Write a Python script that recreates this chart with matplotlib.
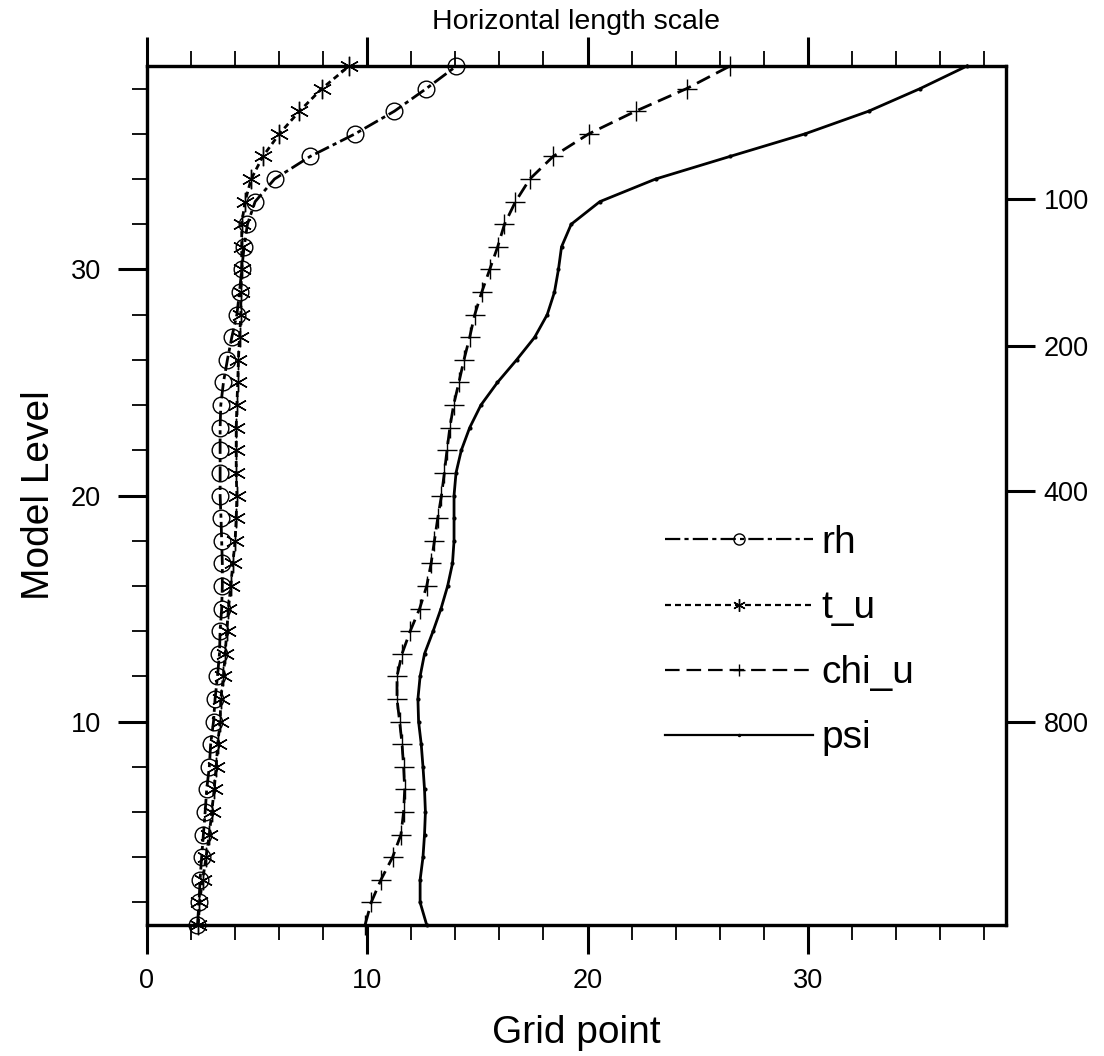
import matplotlib
matplotlib.use("Agg")
import matplotlib.pyplot as plt
from matplotlib.lines import Line2D
from matplotlib.ticker import MultipleLocator, FixedLocator

plt.rcParams['font.family'] = ['Liberation Sans', 'DejaVu Sans']
plt.rcParams['lines.scale_dashes'] = False

levels = list(range(1, 40))

rh = [2.29, 2.36, 2.41, 2.48, 2.56, 2.64, 2.71, 2.83, 2.89, 3.02,
      3.09, 3.20, 3.29, 3.32, 3.39, 3.42, 3.42, 3.39, 3.36, 3.32,
      3.32, 3.32, 3.32, 3.35, 3.47, 3.65, 3.85, 4.08, 4.20, 4.30,
      4.41, 4.56, 4.91, 5.79, 7.41, 9.45, 11.23, 12.68, 14.05]

t_u = [2.33, 2.38, 2.53, 2.68, 2.83, 2.94, 3.05, 3.14, 3.21, 3.32,
       3.35, 3.47, 3.55, 3.62, 3.70, 3.80, 3.90, 4.00, 4.05, 4.08,
       4.05, 4.05, 4.05, 4.08, 4.12, 4.15, 4.20, 4.26, 4.26, 4.30,
       4.30, 4.30, 4.45, 4.73, 5.26, 6.01, 6.92, 7.94, 9.18]

chi_u = [9.90, 10.18, 10.62, 11.15, 11.53, 11.65, 11.70, 11.65, 11.58, 11.47,
         11.35, 11.35, 11.58, 11.95, 12.38, 12.70, 12.90, 13.05, 13.20, 13.37,
         13.50, 13.62, 13.75, 13.92, 14.16, 14.39, 14.65, 14.88, 15.20, 15.56,
         15.92, 16.23, 16.73, 17.38, 18.44, 20.06, 22.18, 24.50, 26.47]

psi = [12.70, 12.40, 12.40, 12.53, 12.60, 12.64, 12.60, 12.53, 12.45, 12.33,
       12.30, 12.40, 12.60, 12.99, 13.35, 13.65, 13.87, 13.94, 13.94, 13.94,
       14.03, 14.27, 14.65, 15.16, 15.91, 16.78, 17.60, 18.17, 18.50, 18.68,
       18.82, 19.26, 20.56, 23.09, 26.47, 29.88, 32.76, 35.10, 37.23]

series_names = ['rh', 't_u', 'chi_u', 'psi']

pres_levels = [33.1, 26.6, 20.2, 10.0]
pres_labels = ['100', '200', '400', '800']

x_ticks = [0, 10, 20, 30]
y_ticks = [10, 20, 30]

W, H = 1104, 1056
fig = plt.figure(figsize=(W / 100, H / 100), dpi=100)
ax = fig.add_axes([147 / W, 1 - 925 / H, (1006 - 147) / W, (925 - 66) / H])

lw = 2.0
styles = {
    'rh':    dict(ls=(0, (11, 3, 3, 3)), marker='o', ms=12, mfc='none', mew=1.0),
    't_u':   dict(ls=(0, (4.3, 2.9)), marker=(6, 2, 0), ms=14, mfc='none', mew=1.0),
    'chi_u': dict(ls=(0, (10.5, 5)), marker='+', ms=14, mfc='none', mew=1.0),
    'psi':   dict(ls='-', marker='o', ms=3, mfc='black', mew=0),
}
data = {'rh': rh, 't_u': t_u, 'chi_u': chi_u, 'psi': psi}

for name in series_names:
    st = styles[name]
    ax.plot(data[name], levels, color='black', lw=lw, linestyle=st['ls'],
            marker=st['marker'], ms=st['ms'], mfc=st['mfc'], mec='black',
            mew=st['mew'], clip_on=False, zorder=3)

ax.set_xlim(0, 39)
ax.set_ylim(1, 39)

ax.xaxis.set_major_locator(FixedLocator(x_ticks))
ax.xaxis.set_minor_locator(MultipleLocator(2))
ax.yaxis.set_major_locator(FixedLocator(y_ticks))
ax.yaxis.set_minor_locator(MultipleLocator(2))

ax.tick_params(axis='both', which='major', direction='out', length=21, width=2.2,
               labelsize=19.5, pad=12)
ax.tick_params(axis='x', which='major', pad=10)
ax.tick_params(axis='both', which='minor', direction='out', length=11, width=1.3)
ax.tick_params(axis='x', which='both', top=True, labeltop=False)
ax.tick_params(axis='y', which='both', right=False)

for sp in ax.spines.values():
    sp.set_linewidth(2.3)

ax2 = ax.twinx()
ax2.set_ylim(1, 39)
ax2.yaxis.set_major_locator(FixedLocator(pres_levels))
ax2.set_yticklabels(pres_labels)
ax2.yaxis.set_minor_locator(FixedLocator([]))
ax2.tick_params(axis='y', which='major', direction='out', length=21, width=2.2,
                labelsize=19.5, pad=6)
for sp in ax2.spines.values():
    sp.set_linewidth(2.3)

ax.set_xlabel('Grid point', fontsize=28, labelpad=15)
ax.set_ylabel('Model Level', fontsize=28, labelpad=10)
fig.text(576 / W, 1 - 22 / H, 'Horizontal length scale', fontsize=20.5,
         ha='center', va='center')

leg_styles = {
    'rh':    dict(ls=(0, (11, 3, 3, 3)), marker='o', ms=8, mfc='none', mew=1.0),
    't_u':   dict(ls=(0, (4.3, 2.9)), marker=(6, 2, 0), ms=9, mfc='none', mew=1.0),
    'chi_u': dict(ls=(0, (10.5, 5)), marker='+', ms=9, mfc='none', mew=1.0),
    'psi':   dict(ls='-', marker='o', ms=2.5, mfc='black', mew=0),
}
handles = []
for name in series_names:
    st = leg_styles[name]
    handles.append(Line2D([], [], color='black', lw=1.6, linestyle=st['ls'],
                          marker=st['marker'], ms=st['ms'], mfc=st['mfc'],
                          mec='black', mew=st['mew']))
leg = ax.legend(handles, series_names, loc='upper left',
                bbox_to_anchor=((665 - 147) / (1006 - 147), (925 - 525) / (925 - 66)),
                frameon=False, fontsize=28, handlelength=3.8, handletextpad=0.22,
                labelspacing=0.75, borderpad=0, borderaxespad=0, numpoints=1)

fig.savefig('out.png', dpi=100)
